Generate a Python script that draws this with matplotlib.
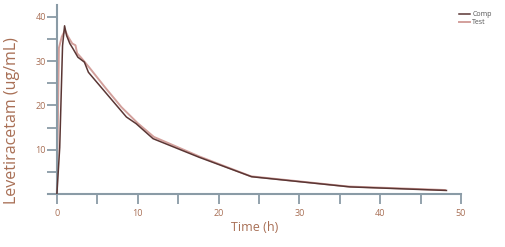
import numpy as np
import matplotlib.pyplot as plt

plt.rcParams['font.family'] = ['Open Sans', 'DejaVu Sans']

# time (h) and concentration (ug/mL)
comp_t = [0, 0.35, 0.7, 0.95, 1.2, 1.6, 2.0, 2.6, 3.4, 3.9, 4.5, 6.5, 8.6, 9.8, 11.9, 17.6, 24.1, 36.3, 48.2]
comp_c = [0, 10.5, 33.5, 38.0, 35.8, 34.0, 32.8, 30.9, 29.8, 27.5, 26.2, 21.9, 17.4, 15.9, 12.5, 8.3, 3.9, 1.6, 0.8]

test_t = [0, 0.25, 0.6, 1.0, 1.4, 1.9, 2.3, 2.5, 3.0, 4.0, 6.0, 8.0, 10.0, 12.0, 17.6, 24.0, 36.0, 48.0]
test_c = [0, 33.0, 35.5, 37.0, 35.5, 34.0, 33.6, 31.8, 30.8, 28.6, 24.0, 19.6, 16.0, 12.9, 8.5, 4.0, 1.7, 0.9]

xticks = [0, 10, 20, 30, 40, 50]
yticks = [10, 20, 30, 40]

axis_col = '#8a9ba6'
text_col = '#a86f55'

fig = plt.figure(figsize=(5.06, 2.47), dpi=100)
ax = fig.add_axes([48 / 506, 1 - 194 / 247, (461 - 48) / 506, (194 - 5) / 247])

ax.plot(test_t, test_c, color='#d3a09c', lw=1.4, label='Test', zorder=2)
ax.plot(comp_t, comp_c, color='#5a3634', lw=1.1, label='Comp', zorder=3)

ax.set_xlim(-1.1, 50)
ax.set_ylim(0, 42.7)
ax.spines['left'].set_position(('data', 0))
for s in ['top', 'right']:
    ax.spines[s].set_visible(False)
for s in ['left', 'bottom']:
    ax.spines[s].set_color(axis_col)
    ax.spines[s].set_linewidth(1.5)

ax.set_xticks(xticks)
ax.set_xticks(np.arange(5, 50, 10), minor=True)
ax.set_yticks(yticks)
ax.set_yticks([5, 15, 25, 35], minor=True)
ax.tick_params(which='both', colors=axis_col, labelcolor=text_col, labelsize=6.5, width=1.3, length=7.5)
ax.tick_params(axis='y', which='both', length=7, pad=1)

ax.set_xlabel('Time (h)', color=text_col, fontsize=9, labelpad=2)
ax.set_ylabel('Levetiracetam (ug/mL)', color=text_col, fontsize=11.5)
ax.yaxis.set_label_coords(-0.068, 0.39)

handles, labels = ax.get_legend_handles_labels()
leg = ax.legend(handles[::-1], labels[::-1], loc='upper right', bbox_to_anchor=(1.09, 1.0),
                frameon=False, fontsize=5, handlelength=1.6, handletextpad=0.3,
                labelspacing=0.1, labelcolor='#555555')

fig.savefig('out.png', dpi=100)
